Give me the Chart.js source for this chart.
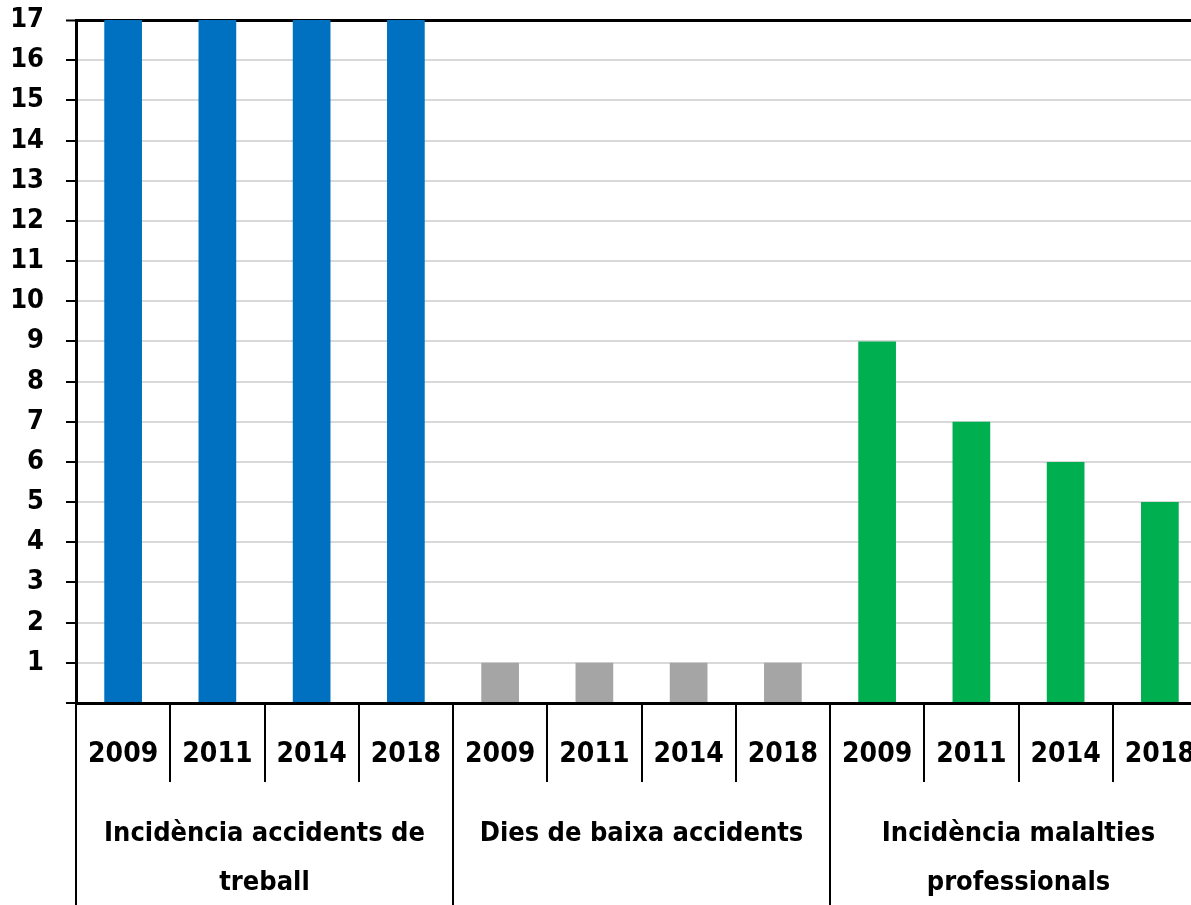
<!DOCTYPE html>
<html>
<head>
<meta charset="utf-8">
<script src="https://cdn.jsdelivr.net/npm/chart.js@4/dist/chart.umd.min.js"></script>
<style>
  body { margin: 0; overflow: hidden; background: #fff; }
</style>
</head>
<body>
<canvas id="chart" width="1210" height="905"></canvas>
<script>
// data (blue bars run past the top of the axis)
var groups = ["Incidència accidents de|treball", "Dies de baixa accidents", "Incidència malalties|professionals"];
var years = ["2009", "2011", "2014", "2018"];
var accidents = [17, 17, 17, 17];
var diesBaixa = [1, 1, 1, 1];
var malalties = [9, 7, 6, 5];
var groupColors = ["#0070C0", "#A5A5A5", "#00B050"];

var FONT = '"DejaVu Sans Condensed", "DejaVu Sans", sans-serif';

var labels = [];
var values = [];
var colors = [];
[accidents, diesBaixa, malalties].forEach(function (serie, g) {
  serie.forEach(function (v, i) {
    labels.push(years[i]);
    values.push(v);
    colors.push(groupColors[g]);
  });
});

// two-level category axis drawn below the plot
var multiLevel = {
  id: 'multiLevel',
  afterDraw: function (chart) {
    var ctx = chart.ctx;
    var x = chart.scales.x;
    var top = chart.chartArea.bottom;
    var n = labels.length;
    var half = (x.getPixelForValue(1) - x.getPixelForValue(0)) / 2;
    ctx.save();
    ctx.strokeStyle = '#000';
    ctx.lineWidth = 2;
    ctx.fillStyle = '#000';
    ctx.textAlign = 'center';
    ctx.textBaseline = 'middle';
    for (var i = 0; i <= n; i++) {
      var px = Math.round(x.getPixelForValue(0) - half + i * half * 2);
      var end = (i % years.length === 0) ? chart.height : top + 79;
      ctx.beginPath();
      ctx.moveTo(px, top);
      ctx.lineTo(px, end);
      ctx.stroke();
    }
    ctx.font = 'bold 28px ' + FONT;
    for (var j = 0; j < n; j++) {
      ctx.fillText(labels[j], x.getPixelForValue(j), top + 52);
    }
    ctx.font = 'bold 27px ' + FONT;
    groups.forEach(function (g, k) {
      var c = (x.getPixelForValue(k * 4) + x.getPixelForValue(k * 4 + 3)) / 2;
      var lines = g.split('|');
      lines.forEach(function (line, l) {
        ctx.fillText(line, c, top + 131 + l * 49);
      });
    });
    ctx.restore();
  }
};

new Chart(document.getElementById('chart'), {
  type: 'bar',
  data: {
    labels: labels,
    datasets: [{
      data: values,
      backgroundColor: colors,
      borderWidth: 0,
      categoryPercentage: 1,
      barPercentage: 0.4
    }]
  },
  options: {
    responsive: false,
    animation: false,
    layout: { padding: { top: 20, right: 3, left: 0, bottom: 0 } },
    plugins: {
      legend: { display: false },
      tooltip: { enabled: false }
    },
    scales: {
      x: {
        grid: { display: false },
        border: { color: '#000', width: 3 },
        ticks: { display: false },
        afterFit: function (s) { s.height = 202; }
      },
      y: {
        min: 0,
        max: 17,
        grid: {
          color: function (c) { return c.tick && c.tick.value === 17 ? '#000' : '#d9d9d9'; },
          lineWidth: function (c) { return c.tick && c.tick.value === 17 ? 3 : 2; },
          tickColor: '#000',
          tickLength: 10,
          tickWidth: 2
        },
        border: { color: '#000', width: 3 },
        ticks: {
          stepSize: 1,
          autoSkip: false,
          color: '#000',
          padding: 22,
          font: { family: FONT, size: 27, weight: 'bold' },
          callback: function (v) { return v === 0 ? '' : v; }
        },
        afterFit: function (s) {
          s.width = 76;
          s.paddingTop = 0;
          s.paddingBottom = 0;
        }
      }
    }
  },
  plugins: [multiLevel]
});
</script>
</body>
</html>
